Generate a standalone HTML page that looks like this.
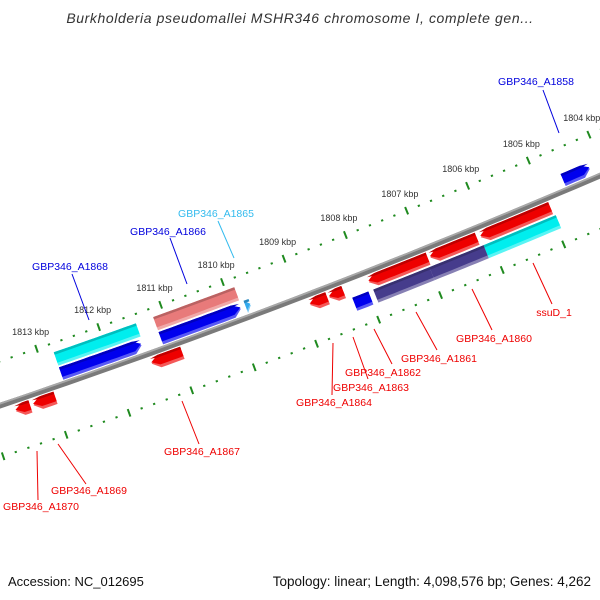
<!DOCTYPE html>
<html><head><meta charset="utf-8"><style>
html,body{margin:0;padding:0;background:#fff;}
svg{display:block;font-family:"Liberation Sans",sans-serif;}
</style></head><body>
<svg id="map" width="600" height="600" viewBox="0 0 600 600" xmlns="http://www.w3.org/2000/svg">
<text x="300" y="23" text-anchor="middle" font-size="14" letter-spacing="0.6" font-style="italic" fill="#333">Burkholderia pseudomallei MSHR346 chromosome I, complete gen...</text>
<g id="ticks"></g>
<g id="backbone"></g>
<g id="features"></g>
<g id="labels" font-size="10.5">
<g fill="#0000dd" stroke="#0000dd">
<line x1="543" y1="90" x2="559" y2="133" stroke-width="1"/>
<text x="536" y="85" text-anchor="middle" stroke="none">GBP346_A1858</text>
<line x1="170" y1="238" x2="187" y2="284" stroke-width="1"/>
<text x="168" y="235" text-anchor="middle" stroke="none">GBP346_A1866</text>
<line x1="72" y1="274" x2="89" y2="320" stroke-width="1"/>
<text x="70" y="270" text-anchor="middle" stroke="none">GBP346_A1868</text>
</g>
<g fill="#33bbee" stroke="#33bbee">
<line x1="218" y1="221" x2="234" y2="258" stroke-width="1"/>
<text x="216" y="217" text-anchor="middle" stroke="none">GBP346_A1865</text>
</g>
<g fill="#ee0000" stroke="#ee0000">
<line x1="533" y1="263" x2="552" y2="304" stroke-width="1"/>
<text x="554" y="316" text-anchor="middle" stroke="none">ssuD_1</text>
<line x1="472" y1="289" x2="492" y2="330" stroke-width="1"/>
<text x="494" y="342" text-anchor="middle" stroke="none">GBP346_A1860</text>
<line x1="416" y1="312" x2="437" y2="350" stroke-width="1"/>
<text x="439" y="362" text-anchor="middle" stroke="none">GBP346_A1861</text>
<line x1="374" y1="329" x2="392" y2="364" stroke-width="1"/>
<text x="383" y="376" text-anchor="middle" stroke="none">GBP346_A1862</text>
<line x1="353" y1="337" x2="368" y2="379" stroke-width="1"/>
<text x="371" y="391" text-anchor="middle" stroke="none">GBP346_A1863</text>
<line x1="333" y1="343" x2="332" y2="395" stroke-width="1"/>
<text x="334" y="406" text-anchor="middle" stroke="none">GBP346_A1864</text>
<line x1="182" y1="401" x2="199" y2="444" stroke-width="1"/>
<text x="202" y="455" text-anchor="middle" stroke="none">GBP346_A1867</text>
<line x1="58" y1="444" x2="86" y2="484" stroke-width="1"/>
<text x="89" y="494" text-anchor="middle" stroke="none">GBP346_A1869</text>
<line x1="37" y1="451" x2="38" y2="500" stroke-width="1"/>
<text x="41" y="510" text-anchor="middle" stroke="none">GBP346_A1870</text>
</g>
</g>
<text x="8" y="586" font-size="13" fill="#111">Accession: NC_012695</text>
<text x="591" y="586" text-anchor="end" font-size="13.5" fill="#111">Topology: linear; Length: 4,098,576 bp; Genes: 4,262</text>
</svg>
<script>
// feature data (kbp)
const featNames = ["a1858","a1865","a1866","a1866b","a1868","a1868b","a1867","a1869","a1870","ssuD_1","a1860","a1860b","a1861","a1861b","a1862","a1862b","a1863","a1864"];
const featStart = [1804.63,1809.80,1811.17,1811.17,1812.77,1812.77,1811.43,1813.32,1813.60,1806.12,1806.11,1807.0,1806.93,1807.91,1807.93,1808.25,1808.57,1808.88];
const featEnd   = [1804.19,1809.72,1809.86,1809.88,1811.48,1811.45,1810.94,1812.97,1813.37,1804.94,1804.97,1806.12,1806.17,1807.0,1806.97,1807.99,1808.34,1808.60];
const featTrack = ["oc","oc","ob","oc","oc","ob","ic","ic","ic","ib","ic","ib","ic","ib","ic","ib","ic","ic"];
const featShape = ["R","T","N","R","R","N","L","L","L","N","L","N","L","N","L","N","L","L"];
const featColor = ["#0000ee","#33aaee","#e87a7a","#0000ee","#0000ee","#00eeee","#ee0000","#ee0000","#ee0000","#00eeee","#ee0000","#463c8c","#ee0000","#463c8c","#ee0000","#0000ee","#ee0000","#ee0000"];
const tickLabels = [1804,1805,1806,1807,1808,1809,1810,1811,1812,1813];
const tickMin = 1803.4, tickMax = 1814.0;

const NS="http://www.w3.org/2000/svg";
const C=[-2525,-7080], R0=7900, PHI0=1.16334, DPHI=0.008379;
function pt(k,d){const a=PHI0+(k-1804)*DPHI, r=R0+d; return [C[0]+r*Math.cos(a), C[1]+r*Math.sin(a)];}
const tracks={oc:[-17,-4],ob:[-33,-19],ic:[4,17],ib:[19,33]};
function shade(hex,f){let n=parseInt(hex.slice(1),16);let r=n>>16,g=(n>>8)&255,b=n&255;
 const m=v=>Math.max(0,Math.min(255,Math.round(f>0?v+(255-v)*f:v*(1+f))));
 return "rgb("+m(r)+","+m(g)+","+m(b)+")";}
function poly(k1,k2,d1,d2,shape){
 const P=[];const dm=(d1+d2)/2;let h=Math.min(0.12,(k1-k2)*0.6);
 if(shape==="T"){return [pt(k1,d1),pt(k2,dm),pt(k1,d2)];}
 let a=k1,b=k2;
 if(shape==="L")a=k1-h; if(shape==="R")b=k2+h;
 const n=Math.max(2,Math.ceil((a-b)/0.1));
 if(shape==="L")P.push(pt(k1,dm));
 for(let i=0;i<=n;i++)P.push(pt(a-(a-b)*i/n,d1));
 if(shape==="R")P.push(pt(k2,dm));
 for(let i=0;i<=n;i++)P.push(pt(b+(a-b)*i/n,d2));
 return P;}
function addPoly(g,P,fill,name){const e=document.createElementNS(NS,"polygon");
 e.setAttribute("points",P.map(p=>p[0].toFixed(1)+","+p[1].toFixed(1)).join(" "));
 e.setAttribute("fill",fill);
 
 
 g.appendChild(e);}

// ticks
const tg=document.getElementById("ticks");
for(let i=0;tickMin+i*0.2<=tickMax;i++){
 const k=tickMin+i*0.2;const major=Math.abs(k-Math.round(k))<0.01;
 [-42,49].forEach(d=>{
  const a=pt(k,d-(major?4:1)),b=pt(k,d+(major?4:1));
  const l=document.createElementNS(NS,"line");
  l.setAttribute("x1",a[0]);l.setAttribute("y1",a[1]);l.setAttribute("x2",b[0]);l.setAttribute("y2",b[1]);
  l.setAttribute("stroke","#1f8a1f");l.setAttribute("stroke-width",major?2:2.2);
  
  
  tg.appendChild(l);
 });
}
tickLabels.forEach(k=>{const p=pt(k,-60);const t=document.createElementNS(NS,"text");
 t.setAttribute("x",p[0]);t.setAttribute("y",p[1]+3);t.setAttribute("text-anchor","middle");
 t.setAttribute("font-size","9");t.setAttribute("fill","#333");t.textContent=k+" kbp";
 
 
 tg.appendChild(t);});

// backbone
const bg=document.getElementById("backbone");
function arc(d){const P=[];for(let k=1815;k>=1803;k-=0.25)P.push(pt(k,d));return P;}
const bbTop=arc(-2.8),bbBot=arc(2.8);
addPoly(bg,bbTop.concat(bbBot.reverse()),"#7a7a7a","backbone-bar");
const bbHi=arc(-2.8),bbHb=arc(-1);addPoly(bg,bbHi.concat(bbHb.reverse()),"#a8a8a8","backbone-highlight");

// features
const fg=document.getElementById("features");
for(let i=0;i<featNames.length;i++){
 const [d1,d2]=tracks[featTrack[i]];const col=featColor[i];
 const k1=featStart[i],k2=featEnd[i],s=featShape[i];
 addPoly(fg,poly(k1,k2,d1,d2,s),shade(col,0.35),"feature-"+featNames[i]);
 addPoly(fg,poly(k1,k2,d1,d2-3,s),col,"feature-"+featNames[i]+"-body");
 addPoly(fg,poly(k1,k2,d1,d1+2.5,s==="T"?"N":s),shade(col,-0.2),"feature-"+featNames[i]+"-edge");
}
</script>
</body></html>
